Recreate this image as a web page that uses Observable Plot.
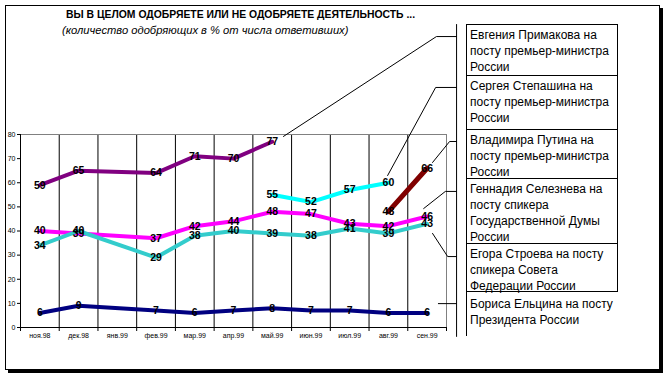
<!DOCTYPE html>
<html><head><meta charset="utf-8">
<script src="https://cdn.jsdelivr.net/npm/d3@7"></script>
<script src="https://cdn.jsdelivr.net/npm/@observablehq/plot@0.6"></script>
<style>
body{margin:0;background:#fff;font-family:"Liberation Sans",Arial,sans-serif;}
#wrap{position:relative;width:669px;height:377px;overflow:hidden;background:#fff;}
#frame{position:absolute;left:5px;top:5px;width:653px;height:363px;border:1px solid #000;box-shadow:3px 3px 0 #000;background:#fff;}
#chart{position:absolute;left:0;top:0;}
.t1{position:absolute;left:66px;top:9px;font-size:10.4px;font-weight:bold;line-height:12px;white-space:nowrap;}
.t2{position:absolute;left:62px;top:24px;font-size:11.2px;font-style:italic;line-height:12px;white-space:nowrap;}
.lg{position:absolute;left:466px;border:1px solid #000;border-bottom:none;padding:2px 3px 0 3px;font-size:12px;line-height:16px;white-space:pre-line;box-sizing:border-box;width:152px;}
</style></head>
<body>
<div id="wrap">
  <div id="frame"></div>
  <div id="chart"></div>
  <div class="t1">ВЫ В ЦЕЛОМ ОДОБРЯЕТЕ ИЛИ НЕ ОДОБРЯЕТЕ ДЕЯТЕЛЬНОСТЬ ...</div>
  <div class="t2">(количество одобряющих в % от числа ответивших)</div>
  <div id="legend"></div>
</div>
<script>
// ---- data ----
const months = ["ноя.98","дек.98","янв.99","фев.99","мар.99","апр.99","май.99","июн.99","июл.99","авг.99","сен.99"];
const primakov  = [59, 65, null, 64, 71, 70, 77, null, null, null, null];
const stepashin = [null, null, null, null, null, null, 55, 52, 57, 60, null];
const putin     = [null, null, null, null, null, null, null, null, null, 48, 66];
const seleznev  = [40, 39, null, 37, 42, 44, 48, 47, 43, 42, 46];
const stroev    = [34, 40, null, 29, 38, 40, 39, 38, 41, 39, 43];
const yeltsin   = [6, 9, null, 7, 6, 7, 8, 7, 7, 6, 6];
const seriesNames = [
  "Евгения Примакова на\nпосту премьер-министра\nРоссии",
  "Сергея Степашина на\nпосту премьер-министра\nРоссии",
  "Владимира Путина на\nпосту премьер-министра\nРоссии",
  "Геннадия Селезнева на\nпосту спикера\nГосударственной Думы\nРоссии",
  "Егора Строева на посту\nспикера Совета\nФедерации России",
  "Бориса Ельцина на посту\nПрезидента России"
];
const yTicks = [0, 10, 20, 30, 40, 50, 60, 70, 80];

// ---- styling / layout ----
const seriesValues = [primakov, stepashin, putin, seleznev, stroev, yeltsin];
const colors = ["#800080", "#00FFFF", "#800000", "#FF00FF", "#33CCCC", "#000080"];
const widths = [4, 4, 5, 4, 4, 4];
const boxHeights = [51, 54, 49, 65, 48, 45];
const boxTop = 24;
// leader lines (annotation, in data units)
const leaders = [
  [[6.29, 79.2], [10.24, 120.6], [10.76, 120.6]],
  [[8.98, 63.0], [10.22, 99.5], [10.76, 99.5]],
  [[10.14, 68.4], [10.58, 77.1], [10.76, 77.1]],
  [[9.91, 49.3], [10.47, 56.4], [10.76, 56.4]],
  [[10.14, 39.0], [10.53, 29.4], [10.76, 29.4]],
  [[10.29, 9.9], [10.76, 9.9]],
  [[10.76, 125.6], [10.76, -3.7]]
];

const rowsBySeries = seriesValues.map((arr, s) =>
  arr.map((v, i) => ({s, i, v})).filter(d => d.v != null));
const allRows = rowsBySeries.flat();
const leaderRows = leaders.flatMap((pts, k) => pts.map(([x, y]) => ({k, x, y})));
const boundaries = d3.range(0, 12).map(k => k - 0.5);

const marks = [
  Plot.ruleX(boundaries.slice(1, 11), {y1: 0, y2: 80, stroke: "#000", strokeWidth: 1}),
  Plot.ruleX([10.5], {y1: 0, y2: 80, stroke: "#808080"}),
  Plot.ruleY([80], {x1: -0.5, x2: 10.5, stroke: "#808080"}),
  Plot.ruleX([-0.5], {y1: 0, y2: 80, stroke: "#000"}),
  Plot.ruleY([0], {x1: -0.5, x2: 10.5, stroke: "#000"}),
  Plot.axisY({ticks: yTicks, tickSize: 3, tickPadding: 2, fontSize: 7, label: null}),
  Plot.axisX({ticks: boundaries, tickSize: 4, tickFormat: () => "", label: null}),
  Plot.axisX({ticks: d3.range(11), tickSize: 0, tickPadding: 6, fontSize: 7, tickFormat: i => months[i], label: null}),
  Plot.line(leaderRows, {x: "x", y: "y", z: "k", stroke: "#000", strokeWidth: 1}),
];
rowsBySeries.forEach((rows, s) => {
  marks.push(Plot.line(rows, {x: "i", y: "v", stroke: colors[s], strokeWidth: widths[s], strokeLinejoin: "round"}));
});
marks.push(Plot.dot(rowsBySeries[1], {x: "i", y: "v", symbol: "times", r: 2.5, stroke: "#00FFFF", strokeWidth: 1}));
marks.push(Plot.text(allRows, {x: "i", y: "v", text: d => String(d.v), fontSize: 10.5, fontWeight: "bold", fill: "#000"}));

const chart = Plot.plot({
  width: 669, height: 377,
  marginLeft: 20, marginRight: 223, marginTop: 134, marginBottom: 50,
  style: {background: "transparent", fontFamily: "Liberation Sans, Arial, sans-serif", overflow: "visible", color: "#000"},
  x: {type: "linear", domain: [-0.5, 10.5]},
  y: {domain: [0, 80]},
  marks
});
document.getElementById("chart").appendChild(chart);

// legend boxes
const lg = document.getElementById("legend");
let boxY = boxTop;
seriesNames.forEach((name, k) => {
  const d = document.createElement("div");
  d.className = "lg";
  d.style.top = boxY + "px";
  d.style.height = boxHeights[k] + "px";
  d.textContent = name;
  if (k === seriesNames.length - 1) { d.style.borderRight = "none"; d.style.paddingTop = "4px"; }
  lg.appendChild(d);
  boxY += boxHeights[k];
});
</script>
</body></html>
